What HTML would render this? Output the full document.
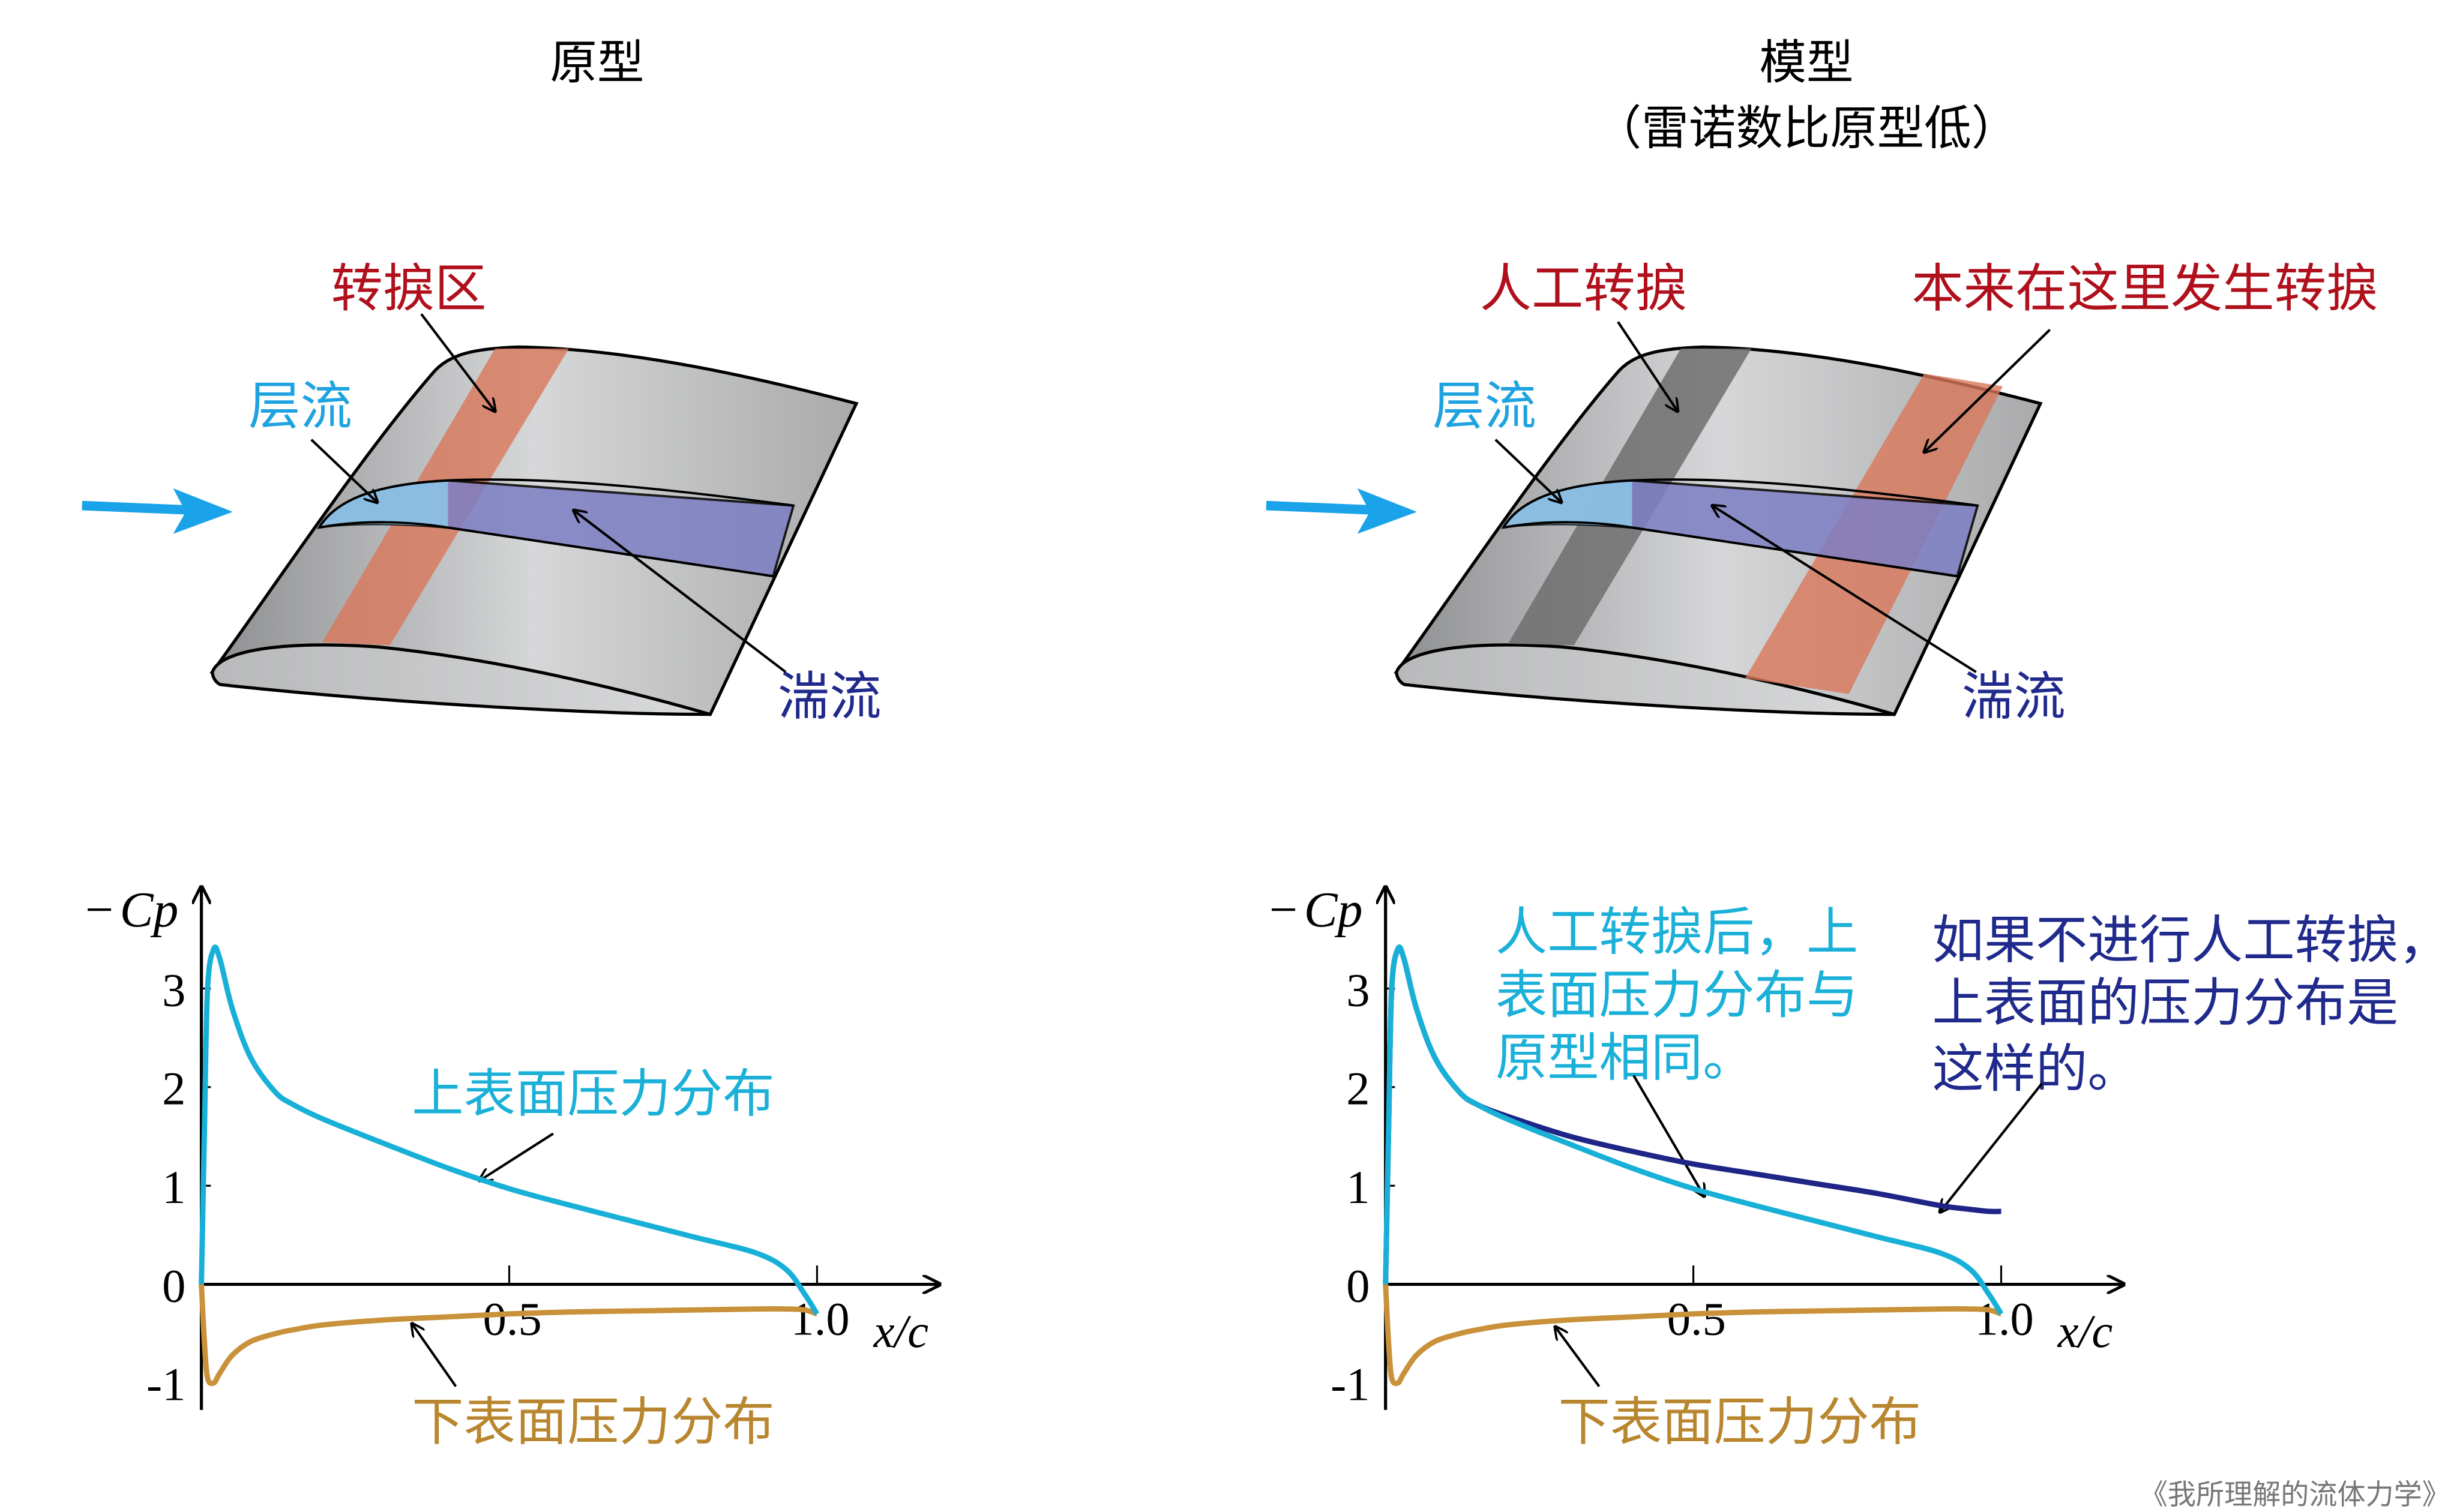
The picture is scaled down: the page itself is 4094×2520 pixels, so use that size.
<!DOCTYPE html>
<html><head><meta charset="utf-8">
<style>
html,body{margin:0;padding:0;background:#fff;}
svg{display:block;}
.cjk{font-family:"Liberation Sans","Noto Sans CJK SC",sans-serif;}
.ser{font-family:"Liberation Serif","Noto Serif CJK SC",serif;}
</style></head>
<body>
<svg id="root" width="4094" height="2520" viewBox="0 0 1564 963" xmlns="http://www.w3.org/2000/svg">
<defs>
<linearGradient id="wg" x1="0" y1="0" x2="1" y2="0">
<stop offset="0" stop-color="#8e8f91"/><stop offset="0.5" stop-color="#d6d7d8"/><stop offset="1" stop-color="#a9aaab"/>
</linearGradient>
<linearGradient id="lg" x1="0" y1="0" x2="1" y2="0">
<stop offset="0" stop-color="#b8b9ba"/><stop offset="1" stop-color="#d9dadb"/>
</linearGradient>
<marker id="ah" viewBox="0 0 10 10" refX="9" refY="5" markerWidth="9" markerHeight="9" orient="auto-start-reverse" markerUnits="userSpaceOnUse"><path d="M0,0 L10,5 L0,10" fill="none" stroke="#000" stroke-width="1.6"/></marker>
<marker id="axh" viewBox="0 0 10 10" refX="9" refY="5" markerWidth="12" markerHeight="12" orient="auto" markerUnits="userSpaceOnUse"><path d="M0,0 L10,5 L0,10" fill="none" stroke="#000" stroke-width="1.6"/></marker>
</defs>

<text class="cjk" x="380" y="50" font-size="30" text-anchor="middle">原型</text>
<text class="cjk" x="1150" y="50" font-size="30" text-anchor="middle">模型</text>
<text class="cjk" x="1150" y="92" font-size="30" text-anchor="middle">（雷诺数比原型低）</text>

<g id="wingL">
<path d="M135,428 C170,380 230,290 275,238 C285,226 300,222 330,221 C400,222 480,240 545,257 L452,455 C380,447 250,440 135,428 Z" fill="url(#wg)" stroke="#000" stroke-width="2"/>
<path d="M135,428 C140,414 180,408 240,412 C320,420 400,440 452,455 C380,455 250,448 140,436 C136,434 135,430 135,428 Z" fill="url(#lg)" stroke="#000" stroke-width="2"/>
<path d="M315,222 L362,222 L248,411 L205,409 Z" fill="#d9775a" opacity="0.8"/>
<path d="M203,336 C215,316 245,308 285,306 L505,322 L492,367 L285,336 C250,333 220,333 203,336 Z" fill="#7d7fc4" opacity="0.85" stroke="#000" stroke-width="1.5"/>
<path d="M203,336 C215,316 245,308 285,306 L285,336 C250,333 220,333 203,336 Z" fill="#8cc3e6" opacity="0.9"/>
<path d="M203,336 C215,316 245,308 285,306 C350,303 430,312 505,322" fill="none" stroke="#000" stroke-width="1.5"/>
<path d="M203,336 C230,331 260,332 285,336 L492,367" fill="none" stroke="#000" stroke-width="1.5"/>
</g>
<path d="M52,322 L125,325" stroke="#1aa3e8" stroke-width="6"/>
<path d="M110,311 L148,326 L110,340 L118,326 Z" fill="#1aa3e8"/>

<g transform="translate(754,0)">
<path d="M135,428 C170,380 230,290 275,238 C285,226 300,222 330,221 C400,222 480,240 545,257 L452,455 C380,447 250,440 135,428 Z" fill="url(#wg)" stroke="#000" stroke-width="2"/>
<path d="M135,428 C140,414 180,408 240,412 C320,420 400,440 452,455 C380,455 250,448 140,436 C136,434 135,430 135,428 Z" fill="url(#lg)" stroke="#000" stroke-width="2"/>
<path d="M316,222 L361,222 L248,411 L206,410 Z" fill="#6e6f70" opacity="0.85"/>
<path d="M471,238 L521,246 L423,442 L357,432 Z" fill="#d9775a" opacity="0.8"/>
<path d="M203,336 C215,316 245,308 285,306 L505,322 L492,367 L285,336 C250,333 220,333 203,336 Z" fill="#7d7fc4" opacity="0.85" stroke="#000" stroke-width="1.5"/>
<path d="M203,336 C215,316 245,308 285,306 L285,336 C250,333 220,333 203,336 Z" fill="#8cc3e6" opacity="0.9"/>
<path d="M203,336 C215,316 245,308 285,306 C350,303 430,312 505,322" fill="none" stroke="#000" stroke-width="1.5"/>
<path d="M203,336 C230,331 260,332 285,336 L492,367" fill="none" stroke="#000" stroke-width="1.5"/>
</g>
<path d="M806,322 L879,325" stroke="#1aa3e8" stroke-width="6"/>
<path d="M864,311 L902,326 L864,340 L872,326 Z" fill="#1aa3e8"/>

<g class="cjk" font-size="33">
<text x="260" y="195" fill="#b0101c" text-anchor="middle">转捩区</text>
<text x="158" y="270" fill="#1fa3e0">层流</text>
<text x="495" y="455" fill="#202a8c">湍流</text>
<text x="942" y="195" fill="#b0101c">人工转捩</text>
<text x="1217" y="195" fill="#b0101c">本来在这里发生转捩</text>
<text x="912" y="270" fill="#1fa3e0">层流</text>
<text x="1249" y="455" fill="#202a8c">湍流</text>
<text x="262" y="708" fill="#1ab0d8">上表面压力分布</text>
<text x="262" y="917" fill="#b8862e">下表面压力分布</text>
<text x="992" y="917" fill="#b8862e">下表面压力分布</text>
<g fill="#1ab0d8">
<text x="952" y="605">人工转捩后，上</text><text x="952" y="645">表面压力分布与</text><text x="952" y="685">原型相同。</text></g>
<g fill="#202a8c">
<text x="1230" y="610">如果不进行人工转捩，</text><text x="1230" y="650">上表面的压力分布是</text><text x="1230" y="692">这样的。</text></g>
</g>
<text class="cjk" x="1560" y="958" font-size="18" fill="#777" text-anchor="end">《我所理解的流体力学》</text>

<g stroke="#000" stroke-width="1.6" fill="none">
<line x1="268" y1="200" x2="315" y2="262" marker-end="url(#ah)"/>
<line x1="198" y1="280" x2="240" y2="320" marker-end="url(#ah)"/>
<line x1="500" y1="428" x2="365" y2="325" marker-end="url(#ah)"/>
<line x1="1030" y1="205" x2="1068" y2="262" marker-end="url(#ah)"/>
<line x1="1305" y1="210" x2="1225" y2="288" marker-end="url(#ah)"/>
<line x1="952" y1="280" x2="994" y2="320" marker-end="url(#ah)"/>
<line x1="1258" y1="428" x2="1090" y2="322" marker-end="url(#ah)"/>
<line x1="352" y1="722" x2="305" y2="752" marker-end="url(#ah)"/>
<line x1="290" y1="883" x2="262" y2="843" marker-end="url(#ah)"/>
<line x1="1040" y1="685" x2="1085" y2="762" marker-end="url(#ah)"/>
<line x1="1300" y1="690" x2="1235" y2="772" marker-end="url(#ah)"/>
<line x1="1018" y1="883" x2="990" y2="845" marker-end="url(#ah)"/>
</g>
<g id="charts"></g>
</svg>
<script>
const xs = [0,0.005,0.01,0.02,0.03,0.05,0.08,0.12,0.15,0.2,0.3,0.4,0.5,0.6,0.7,0.8,0.9,0.95,0.98,1.0];
const upperCp = [0,1.6,3.0,3.4,3.3,2.8,2.3,1.95,1.82,1.67,1.42,1.18,0.97,0.8,0.64,0.48,0.32,0.15,-0.1,-0.3];
const lowerCp = [0,-0.6,-0.95,-1.0,-0.9,-0.72,-0.58,-0.5,-0.46,-0.41,-0.36,-0.33,-0.3,-0.28,-0.27,-0.26,-0.25,-0.25,-0.26,-0.3];
const untrippedCp = [0,1.6,3.0,3.4,3.3,2.8,2.3,1.95,1.82,1.7,1.5,1.35,1.22,1.12,1.02,0.92,0.8,0.76,0.74,0.74];
const yTicks = [3,2,1,0,-1];
const yTickLabels = ["3","2","1","0","-1"];
const xTicks = [0.5,1.0];
const xTickLabels = ["0.5","1.0"];
const NS="http://www.w3.org/2000/svg";
const g=document.getElementById('charts');
function mk(t,a,p){const e=document.createElementNS(NS,t);for(const k in a)e.setAttribute(k,a[k]);(p||g).appendChild(e);return e;}
function smooth(pts){let d="M"+pts[0][0]+","+pts[0][1];for(let i=0;i<pts.length-1;i++){const p0=pts[i-1]||pts[i],p1=pts[i],p2=pts[i+1],p3=pts[i+2]||p2;
const c1=[p1[0]+(p2[0]-p0[0])/6,p1[1]+(p2[1]-p0[1])/6],c2=[p2[0]-(p3[0]-p1[0])/6,p2[1]-(p3[1]-p1[1])/6];
d+=" C"+c1[0].toFixed(2)+","+c1[1].toFixed(2)+" "+c2[0].toFixed(2)+","+c2[1].toFixed(2)+" "+p2[0].toFixed(2)+","+p2[1].toFixed(2);}return d;}
function chart(ox,name,series){
  const sx=v=>ox+v*392, sy=v=>818-v*62.8;
  const cg=mk('g',{});
  
  
  const ya=mk('line',{x1:ox,y1:898,x2:ox,y2:565,stroke:'#000','stroke-width':2,'marker-end':'url(#axh)'},cg);
  
  
  const xa=mk('line',{x1:ox,y1:sy(0),x2:ox+470,y2:sy(0),stroke:'#000','stroke-width':2,'marker-end':'url(#axh)'},cg);
  
  
  yTicks.forEach((v,i)=>{
    if(v>0) mk('line',{x1:ox,y1:sy(v),x2:ox+6,y2:sy(v),stroke:'#000','stroke-width':1.2},cg);
    const t=mk('text',{x:ox-10,y:sy(v)+11,'font-size':30,'text-anchor':'end',class:'ser'},cg);t.textContent=yTickLabels[i];
    
    
  });
  xTicks.forEach((v,i)=>{
    mk('line',{x1:sx(v),y1:sy(0),x2:sx(v),y2:sy(0)-12,stroke:'#000','stroke-width':1.2},cg);
    const t=mk('text',{x:sx(v)+2,y:sy(0)+32,'font-size':30,'text-anchor':'middle',class:'ser'},cg);t.textContent=xTickLabels[i];
    
    
  });
  const yl=mk('text',{x:ox-74,y:590,'font-size':32,class:'ser'},cg);yl.innerHTML='<tspan>−</tspan><tspan font-style="italic" dx="4">Cp</tspan>';
  
  
  const xl=mk('text',{x:ox+428,y:858,'font-size':30,'font-style':'italic',class:'ser'},cg);xl.textContent='x/c';
  
  
  series.forEach(s=>{
    const p=mk('path',{d:smooth(xs.map((x,i)=>[sx(x),sy(s.v[i])])),fill:'none',stroke:s.c,'stroke-width':3.4,'stroke-linejoin':'round'},cg);
    
    
  });
}
chart(128,'prototype-cp-chart',[{v:lowerCp,c:'#c8913a',n:'lower-cp-line'},{v:upperCp,c:'#19b0d8',n:'upper-cp-line'}]);
chart(882,'model-cp-chart',[{v:lowerCp,c:'#c8913a',n:'lower-cp-line'},{v:untrippedCp,c:'#1f2586',n:'untripped-upper-cp-line'},{v:upperCp,c:'#19b0d8',n:'tripped-upper-cp-line'}]);
</script>
</body></html>
